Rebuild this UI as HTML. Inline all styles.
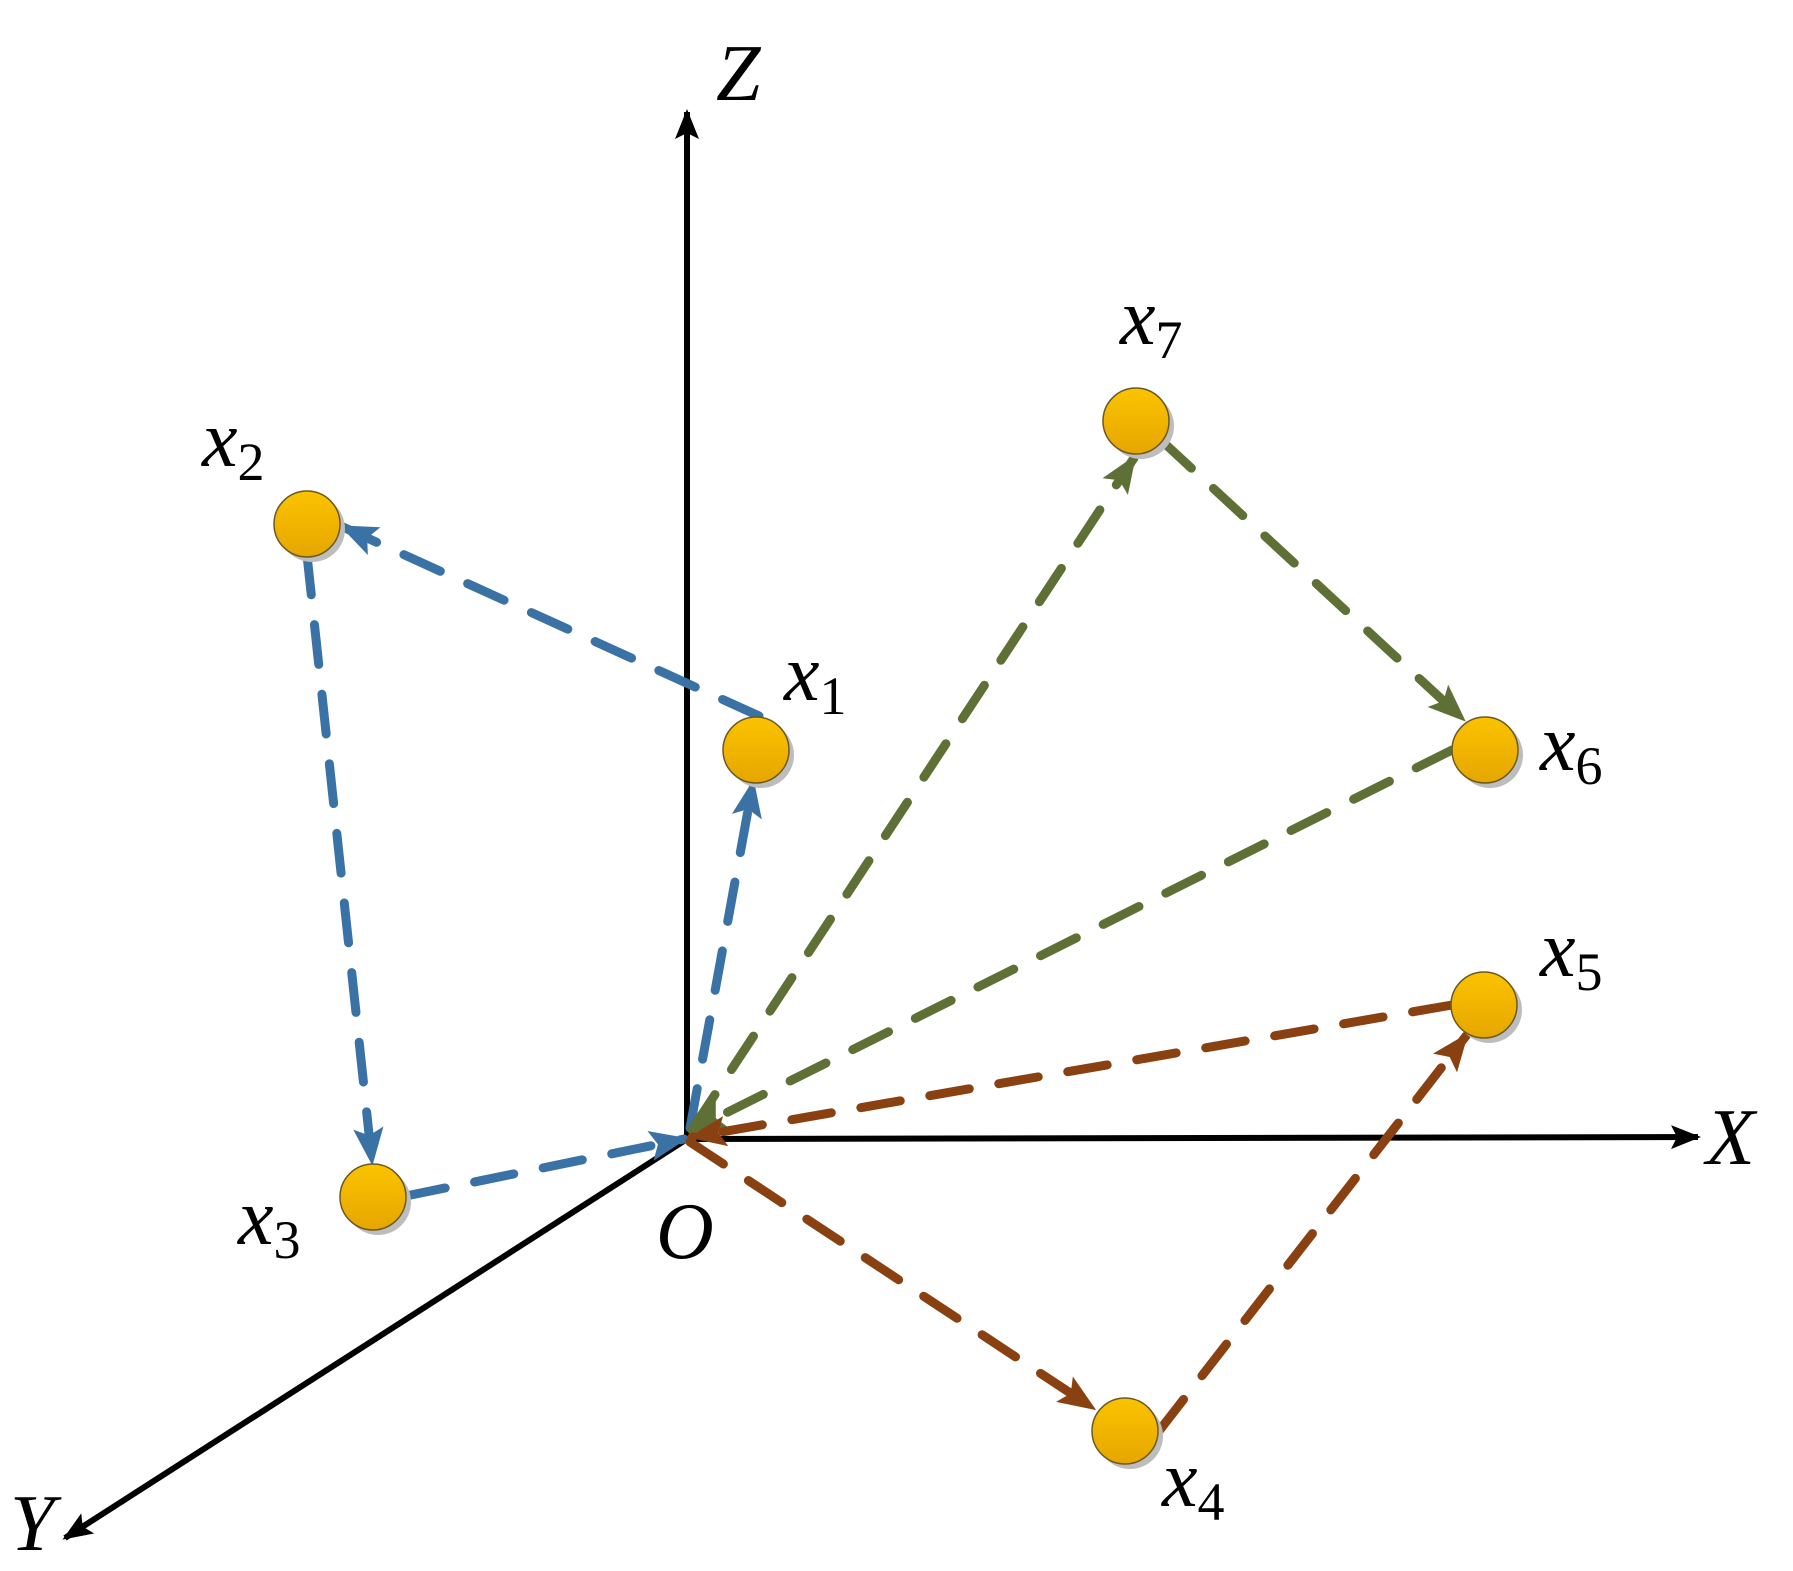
<!DOCTYPE html>
<html><head><meta charset="utf-8"><style>html,body{margin:0;padding:0;background:#fff}svg{display:block}
.t{font-family:"Liberation Serif","Times New Roman",serif}</style></head>
<body>
<svg width="1793" height="1571" viewBox="0 0 1793 1571" xmlns="http://www.w3.org/2000/svg">
<defs>
<linearGradient id="g" x1="0" y1="0" x2="0" y2="1"><stop offset="0" stop-color="#fbc300"/><stop offset="1" stop-color="#e6a600"/></linearGradient>
<marker id="ak" viewBox="0 0 10 8" refX="9" refY="4" markerWidth="30" markerHeight="24" orient="auto" markerUnits="userSpaceOnUse"><path d="M0,0 L10,4 L0,8 L2,4z" fill="#000"/></marker>
<marker id="ab" viewBox="0 0 10 10" refX="9" refY="5" markerWidth="38" markerHeight="38" orient="auto" markerUnits="userSpaceOnUse"><path d="M0,1 L10,5 L0,9 L2,5z" fill="#3b72a6"/></marker>
<marker id="ag" viewBox="0 0 10 10" refX="9" refY="5" markerWidth="38" markerHeight="38" orient="auto" markerUnits="userSpaceOnUse"><path d="M0,1 L10,5 L0,9 L2,5z" fill="#5f7036"/></marker>
<marker id="ar" viewBox="0 0 10 10" refX="9" refY="5" markerWidth="38" markerHeight="38" orient="auto" markerUnits="userSpaceOnUse"><path d="M0,1 L10,5 L0,9 L2,5z" fill="#8a4112"/></marker>
</defs>
<g stroke="#000" stroke-width="6" fill="none">
<line x1="687" y1="1139" x2="687" y2="112" marker-end="url(#ak)"/>
<line x1="687" y1="1139" x2="1698" y2="1137" marker-end="url(#ak)"/>
<line x1="687" y1="1139" x2="65" y2="1538" marker-end="url(#ak)"/>
</g>
<g stroke-width="9" stroke-linecap="round" fill="none" stroke-dasharray="40 30">
<g stroke="#3b72a6">
<line x1="759" y1="716" x2="343" y2="527" marker-end="url(#ab)"/>
<line x1="690" y1="1128" x2="753" y2="783" marker-end="url(#ab)"/>
<line x1="307" y1="555" x2="372" y2="1162" marker-end="url(#ab)"/>
<line x1="406" y1="1196" x2="684" y2="1139" marker-end="url(#ab)"/>
</g>
<g stroke="#5f7036">
<line x1="693" y1="1128" x2="1134" y2="458" marker-end="url(#ag)"/>
<line x1="1162" y1="441" x2="1463" y2="719" marker-end="url(#ag)"/>
<line x1="1452" y1="750" x2="692" y2="1130" marker-end="url(#ag)"/>
</g>
<g stroke="#8a4112">
<line x1="1452" y1="1005" x2="692" y2="1137" marker-end="url(#ar)"/>
<line x1="690" y1="1142" x2="1093" y2="1408" marker-end="url(#ar)"/>
<line x1="1159" y1="1431" x2="1466" y2="1036" marker-end="url(#ar)"/>
</g>
</g>
<g>
<g transform="translate(756,750)"><circle cx="5" cy="5" r="33" fill="#bdbdbd"/><circle r="33" fill="url(#g)" stroke="#6b5a20" stroke-width="1.5"/></g>
<g transform="translate(307,524)"><circle cx="5" cy="5" r="33" fill="#bdbdbd"/><circle r="33" fill="url(#g)" stroke="#6b5a20" stroke-width="1.5"/></g>
<g transform="translate(373,1197)"><circle cx="5" cy="5" r="33" fill="#bdbdbd"/><circle r="33" fill="url(#g)" stroke="#6b5a20" stroke-width="1.5"/></g>
<g transform="translate(1125,1431)"><circle cx="5" cy="5" r="33" fill="#bdbdbd"/><circle r="33" fill="url(#g)" stroke="#6b5a20" stroke-width="1.5"/></g>
<g transform="translate(1484,1005)"><circle cx="5" cy="5" r="33" fill="#bdbdbd"/><circle r="33" fill="url(#g)" stroke="#6b5a20" stroke-width="1.5"/></g>
<g transform="translate(1485,750)"><circle cx="5" cy="5" r="33" fill="#bdbdbd"/><circle r="33" fill="url(#g)" stroke="#6b5a20" stroke-width="1.5"/></g>
<g transform="translate(1136,421)"><circle cx="5" cy="5" r="33" fill="#bdbdbd"/><circle r="33" fill="url(#g)" stroke="#6b5a20" stroke-width="1.5"/></g>
</g>
<g class="t" fill="#000" font-size="80">
<text x="716" y="100" font-style="italic">Z</text>
<text x="1706" y="1164" font-style="italic">X</text>
<text x="10" y="1550" font-style="italic">Y</text>
<text x="656" y="1258" font-style="italic">O</text>
<text x="784" y="700"><tspan font-style="italic">x</tspan><tspan font-size="54" dy="14">1</tspan></text>
<text x="202" y="466"><tspan font-style="italic">x</tspan><tspan font-size="54" dy="14">2</tspan></text>
<text x="238" y="1244"><tspan font-style="italic">x</tspan><tspan font-size="54" dy="14">3</tspan></text>
<text x="1162" y="1506"><tspan font-style="italic">x</tspan><tspan font-size="54" dy="14">4</tspan></text>
<text x="1540" y="976"><tspan font-style="italic">x</tspan><tspan font-size="54" dy="14">5</tspan></text>
<text x="1540" y="770"><tspan font-style="italic">x</tspan><tspan font-size="54" dy="14">6</tspan></text>
<text x="1120" y="344"><tspan font-style="italic">x</tspan><tspan font-size="54" dy="14">7</tspan></text>
</g>
</svg>
</body></html>
